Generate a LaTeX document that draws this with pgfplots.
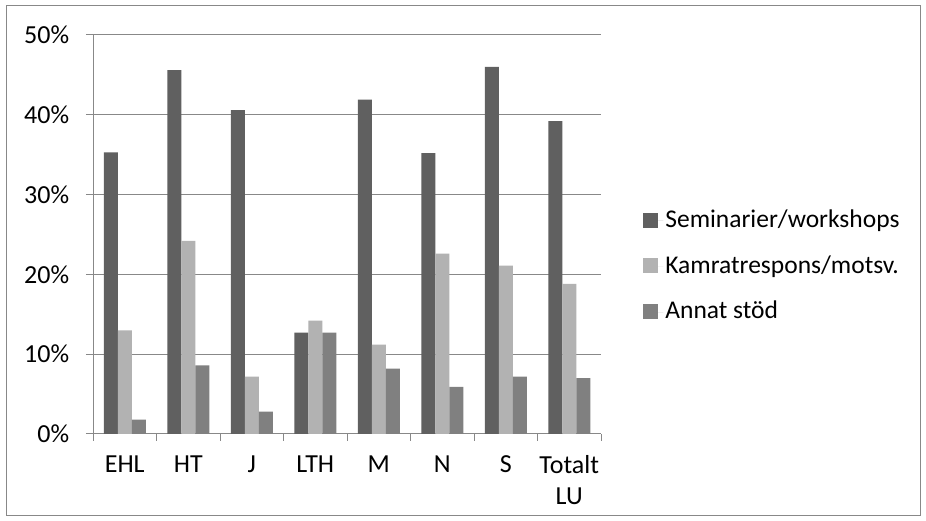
\documentclass[border=0pt]{standalone}
\usepackage{pgfplots}
\pgfplotsset{compat=1.18}
\usepackage{fontspec}
\setmainfont{Carlito}
\definecolor{sem}{HTML}{606060}
\definecolor{kam}{HTML}{B2B2B2}
\definecolor{ann}{HTML}{808080}
\definecolor{gridc}{HTML}{888888}
\begin{document}
\fontsize{26pt}{31pt}\selectfont
\begin{tikzpicture}
\path[use as bounding box, fill=white] (0,0) rectangle (926pt,521pt);
\draw[gridc, line width=1pt] (6pt,5pt) rectangle (920pt,515pt);
\begin{axis}[at={(93pt,87pt)}, anchor=south west, scale only axis,
  width=508pt, height=399pt,
  ybar=0pt, bar width=14pt,
  xmin=-0.5, xmax=7.5, ymin=0, ymax=50,
  axis x line=bottom, axis y line=left,
  axis line style={gridc, line width=1pt, -},
  tick align=outside, major tick length=7pt,
  tick style={gridc, line width=1pt},
  xtick={-0.5,0.5,...,7.5}, xticklabels={},
  extra x ticks={0,1,2,3,4,5,6,7},
  extra x tick labels={EHL,HT,J,LTH,M,N,S,{Totalt\\LU}},
  extra x tick style={major tick length=0pt, grid=none,
    xticklabel style={align=center, anchor=north, yshift=-13pt}},
  ytick={0,10,20,30,40,50},
  yticklabels={0\%,10\%,20\%,30\%,40\%,50\%},
  yticklabel style={anchor=east, xshift=-8pt},
  ymajorgrids, grid style={gridc, line width=1pt},
  tick label style={font=\fontsize{26pt}{31pt}\selectfont},
  legend style={at={(1.083,0.42)}, anchor=west, draw=none, fill=none,
    inner sep=0pt, row sep=20pt, font=\fontsize{25.5pt}{31pt}\selectfont},
  legend cell align=left,
  legend image code/.code={\fill[#1] (0pt,-7pt) rectangle (15pt,8pt);
    \path (0pt,0pt) -- (20pt,0pt);},
]
\addplot[fill=sem, draw=none] coordinates {(0,35.3) (1,45.6) (2,40.6) (3,12.7) (4,41.9) (5,35.2) (6,46.0) (7,39.2)};
\addlegendentry{Seminarier/workshops}
\addplot[fill=kam, draw=none] coordinates {(0,13.0) (1,24.2) (2,7.2) (3,14.2) (4,11.2) (5,22.6) (6,21.1) (7,18.8)};
\addlegendentry{Kamratrespons/motsv.}
\addplot[fill=ann, draw=none] coordinates {(0,1.8) (1,8.6) (2,2.8) (3,12.7) (4,8.2) (5,5.9) (6,7.2) (7,7.0)};
\addlegendentry{Annat stöd}
\end{axis}
\end{tikzpicture}
\end{document}
